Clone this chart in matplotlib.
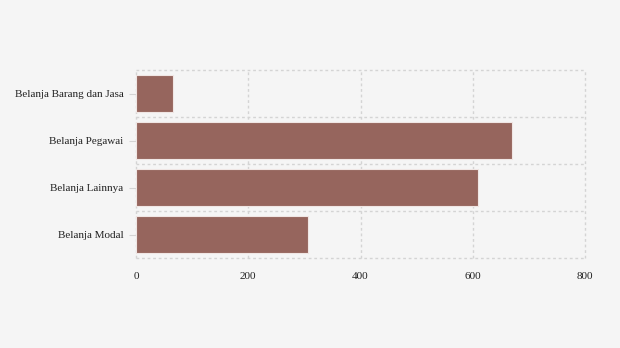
import matplotlib
matplotlib.use("Agg")
import matplotlib.pyplot as plt
import numpy as np

categories = ["Belanja Barang dan Jasa", "Belanja Pegawai", "Belanja Lainnya", "Belanja Modal"]
values = [66, 670, 610, 307]
xticks = [0, 200, 400, 600, 800]

plt.rcParams['font.family'] = ['Liberation Serif', 'DejaVu Serif']

fig = plt.figure(figsize=(6.2, 3.48), dpi=100, facecolor='#f5f5f5')
ax = fig.add_axes([136/620, 1-258/348, (585-136)/620, (258-70)/348])
ax.set_facecolor('#f5f5f5')

pos = np.arange(len(categories))[::-1]
ax.barh(pos, values, height=0.8, color='#96655d', edgecolor='#f0e6e4', linewidth=0.8, zorder=2)

ax.set_xlim(0, 800)
ax.set_ylim(-0.5, len(categories) - 0.5)
ax.set_xticks(xticks)
ax.set_xticklabels([str(t) for t in xticks])
ax.set_yticks(pos)
ax.set_yticklabels(categories)
ax.set_yticks(np.arange(-0.5, len(categories), 1.0), minor=True)

for s in ax.spines.values():
    s.set_visible(False)

ax.grid(axis='x', which='major', color='#d4d4d4', linestyle=(0, (2, 2)), linewidth=1, zorder=0)
ax.grid(axis='y', which='minor', color='#d4d4d4', linestyle=(0, (2, 2)), linewidth=1, zorder=0)
for gl in ax.get_xgridlines() + ax.yaxis.get_minorticklines():
    gl.set_clip_on(False)
for t in ax.yaxis.get_minor_ticks():
    t.gridline.set_clip_on(False)
for t in ax.xaxis.get_major_ticks():
    t.gridline.set_clip_on(False)
ax.tick_params(axis='y', which='major', length=5, color='#d4d4d4', labelsize=8, pad=4, labelcolor='#222222')
ax.tick_params(axis='y', which='minor', length=0)
ax.tick_params(axis='x', length=0, labelsize=8, pad=10, labelcolor='#222222')

fig.savefig("out.png", dpi=100, facecolor=fig.get_facecolor())
